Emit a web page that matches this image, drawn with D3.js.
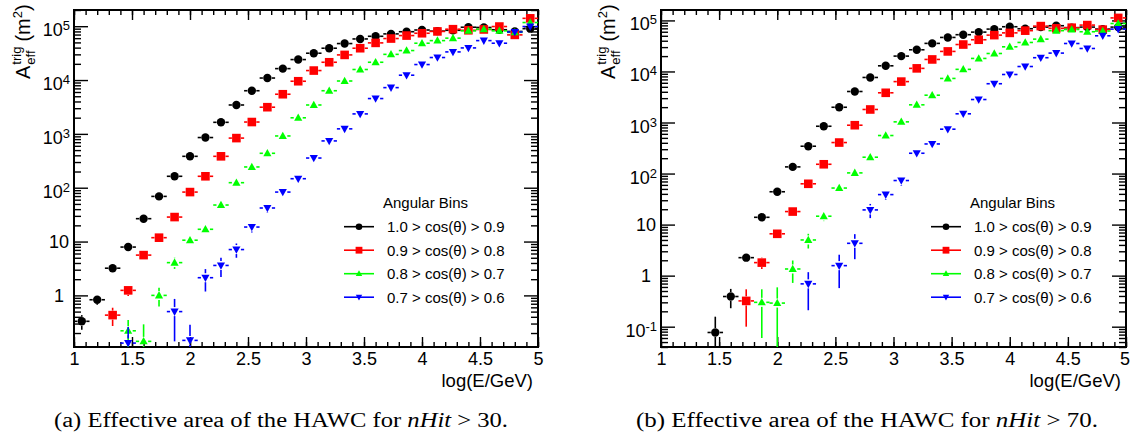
<!DOCTYPE html>
<html>
<head>
<meta charset="utf-8">
<script src="https://cdn.jsdelivr.net/npm/d3@7"></script>
<style>
body { margin: 0; background: #fff; }
svg { display: block; }
text { font-family: "Liberation Sans", Arial, sans-serif; fill: #000; }
</style>
</head>
<body>
<svg id="chart" width="1130" height="433"></svg>
<script>
// Bin centres in log(E/GeV), 30 bins between 1 and 5
const logE = [1.067, 1.2, 1.333, 1.467, 1.6, 1.733, 1.867, 2.0, 2.133, 2.267,
              2.4, 2.533, 2.667, 2.8, 2.933, 3.067, 3.2, 3.333, 3.467, 3.6,
              3.733, 3.867, 4.0, 4.133, 4.267, 4.4, 4.533, 4.667, 4.8, 4.933];
const binHalfWidth = 0.0667;

// nHit > 30 (left panel), effective area in m^2
const black30 = [0.33, 0.83, 3.2, 7.9, 26.6, 69, 163, 383, 855, 1640,
                 3440, 6330, 10900, 16300, 24000, 31500, 39000, 47600, 58000, 65000,
                 72000, 79000, 85000, 81000, 84000, 95700, 94700, 86000, 80000, 90000];
const red30 = [null, null, 0.43, 1.24, 5.6, 11.8, 28.5, 83, 163, 383,
               835, 1660, 3130, 5450, 9500, 15000, 21400, 29300, 39000, 49000,
               59000, 67000, 74000, 80000, 88000, 84000, 87000, 98600, 69000, 140000];
const green30 = [null, null, null, 0.22, 0.14, 1.0, 4.06, 10.6, 16.9, 47.7,
                 124, 243, 436, 915, 1990, 3440, 6330, 9600, 15700, 21400,
                 30000, 35300, 48300, 54000, 60000, 82000, 88000, 82000, 77000, 117000];
const blue30 = [null, null, null, 0.13, null, null, 0.50, 0.146, 2.13, 3.6,
                7.1, 18.6, 42, 83, 147, 356, 740, 1240, 2350, 4530,
                7230, 12300, 19400, 26200, 33300, 39500, 54000, 48300, 78000, 98600];

// vertical errors (m^2), 0 where hidden by the marker
const black30err = [0.1, 0.17, 0.4, 1, 2, 0, 0, 0, 0, 0, 0, 0, 0, 0, 0, 0, 0, 0, 0, 0, 0, 0, 0, 0, 0, 0, 0, 0, 0, 0];
const red30err = [0, 0, 0.16, 0.27, 0.6, 1.2, 2.5, 0, 0, 0, 0, 0, 0, 0, 0, 0, 0, 0, 0, 0, 0, 0, 0, 0, 0, 0, 0, 0, 0, 0];
const green30err = [0, 0, 0, 0.13, 0.15, 0.38, 0.95, 1.5, 2, 0, 0, 0, 0, 0, 0, 0, 0, 0, 0, 0, 0, 0, 0, 0, 0, 0, 0, 0, 0, 0];
const blue30err = [0, 0, 0, 0.13, 0, 0, 0.36, 0.14, 0.95, 1.4, 2.1, 3.8, 8, 10, 0, 0, 0, 0, 0, 0, 0, 0, 0, 0, 0, 0, 0, 0, 0, 0];

// nHit > 70 (right panel)
const black70 = [null, null, null, 0.077, 0.39, 2.25, 13.9, 44, 135, 343,
                 845, 1990, 4050, 7630, 12900, 20000, 26600, 35500, 46400, 52500,
                 59000, 67600, 75200, 68700, 74000, 78700, 72000, 74000, 67600, 74000];
const red70 = [null, null, null, null, null, 0.32, 1.8, 6.6, 18, 63,
               152, 405, 885, 1800, 3820, 6330, 11500, 17200, 24700, 33700,
               41800, 51500, 57000, 63000, 77400, 70000, 72000, 81000, 66000, 112000];
const green70 = [null, null, null, null, null, null, 0.30, 0.29, 1.35, 5.0,
                 14.6, 52, 103, 209, 556, 1030, 2220, 3430, 7300, 11000,
                 18000, 22500, 30400, 37000, 43000, 63000, 66500, 60000, 62000, 87000];
const blue70 = [null, null, null, null, null, null, null, null, null, 0.69,
                null, 1.57, 4.3, 19.4, 38.7, 73, 250, 380, 740, 1480,
                2820, 5750, 8720, 12500, 18600, 22900, 35300, 28200, 50000, 67600];

const black70err = [0, 0, 0, 0.08, 0.16, 0.4, 1.5, 0, 0, 0, 0, 0, 0, 0, 0, 0, 0, 0, 0, 0, 0, 0, 0, 0, 0, 0, 0, 0, 0, 0];
const red70err = [0, 0, 0, 0, 0, 0.22, 0.45, 0.8, 2, 0, 0, 0, 0, 0, 0, 0, 0, 0, 0, 0, 0, 0, 0, 0, 0, 0, 0, 0, 0, 0];
const green70err = [0, 0, 0, 0, 0, 0, 0.24, 0.30, 0.63, 1.6, 2.9, 6, 0, 0, 0, 0, 0, 0, 0, 0, 0, 0, 0, 0, 0, 0, 0, 0, 0, 0];
const blue70err = [0, 0, 0, 0, 0, 0, 0, 0, 0, 0.48, 0, 1.0, 2.2, 6, 8, 15, 20, 0, 0, 0, 0, 0, 0, 0, 0, 0, 0, 0, 0, 0];

// legend / axis text
const legendTitle = "Angular Bins";
const legendLabels = ["1.0 > cos(\u03b8) > 0.9", "0.9 > cos(\u03b8) > 0.8",
                      "0.8 > cos(\u03b8) > 0.7", "0.7 > cos(\u03b8) > 0.6"];
const seriesColors = ["#000000", "#ff0000", "#00ff00", "#0000ff"];
const seriesShapes = ["circle", "square", "triUp", "triDown"];
const xTicks = [1, 1.5, 2, 2.5, 3, 3.5, 4, 4.5, 5];
const yDecades30 = [1, 10, 100, 1000, 10000, 100000];
const yDecades70 = [0.1, 1, 10, 100, 1000, 10000, 100000];

const svg = d3.select('#chart');
svg.append('rect').attr('width', 1130).attr('height', 433).attr('fill', '#fff');

// Function to draw a ROOT-style marker
const drawMarker = (g, shape, cx, cy, s, color) => {
    if (shape === 'circle') {
        g.append('circle').attr('cx', cx).attr('cy', cy).attr('r', s).attr('fill', color);
    } else if (shape === 'square') {
        g.append('rect').attr('x', cx - s).attr('y', cy - s)
            .attr('width', 2 * s).attr('height', 2 * s).attr('fill', color);
    } else {
        const d = shape === 'triUp' ? 1 : -1;
        const pts = [[cx, cy - d * s], [cx - s * 0.95, cy + d * s * 0.7], [cx + s * 0.95, cy + d * s * 0.7]];
        g.append('path').attr('d', 'M' + pts.join('L') + 'Z').attr('fill', color);
    }
};

const markerSize = { circle: 4.2, square: 4.3, triUp: 4.3, triDown: 4.3 };

// Function to draw one panel
const drawPanel = (p) => {
    const x = d3.scaleLinear().domain([1, 5]).range([p.x0, p.x1]);
    const y = d3.scaleLog().domain(p.yDomain).range([p.y1, p.y0]);
    const g = svg.append('g');

    const clipId = 'clip' + p.id;
    svg.append('clipPath').attr('id', clipId).append('rect')
        .attr('x', p.x0).attr('y', p.y0).attr('width', p.x1 - p.x0).attr('height', p.y1 - p.y0);

    // axes (ticks on all four sides, pointing in)
    const xMinor = d3.range(1, 5.001, 0.1);
    const yMinor = y.ticks().filter((v) => Math.abs(Math.log10(v) - Math.round(Math.log10(v))) > 1e-6);

    const axes = g.append('g').attr('class', 'axes');
    axes.append('g').attr('transform', `translate(0,${p.y1})`)
        .call(d3.axisBottom(x).tickValues(xMinor).tickSize(-5).tickFormat(''));
    const xLab = axes.append('g').attr('transform', `translate(0,${p.y1})`)
        .call(d3.axisBottom(x).tickValues(xTicks).tickSize(-10).tickPadding(5).tickFormat((d) => String(d)));
    axes.append('g').attr('transform', `translate(0,${p.y0})`)
        .call(d3.axisTop(x).tickValues(xMinor).tickSize(-5).tickFormat(''));
    axes.append('g').attr('transform', `translate(0,${p.y0})`)
        .call(d3.axisTop(x).tickValues(xTicks).tickSize(-10).tickFormat(''));
    axes.append('g').attr('transform', `translate(${p.x0},0)`)
        .call(d3.axisLeft(y).tickValues(yMinor).tickSize(-7).tickFormat(''));
    axes.append('g').attr('transform', `translate(${p.x0},0)`)
        .call(d3.axisLeft(y).tickValues(p.decades).tickSize(-14).tickFormat(''));
    axes.append('g').attr('transform', `translate(${p.x1},0)`)
        .call(d3.axisRight(y).tickValues(yMinor).tickSize(-7).tickFormat(''));
    axes.append('g').attr('transform', `translate(${p.x1},0)`)
        .call(d3.axisRight(y).tickValues(p.decades).tickSize(-14).tickFormat(''));
    axes.selectAll('.domain').remove();
    axes.selectAll('line').attr('stroke', '#000').attr('stroke-width', 1.4);
    axes.selectAll('text').style('font-size', '18px').attr('fill', '#000')
        .style('font-family', '"Liberation Sans", Arial, sans-serif');
    // keep the last label inside the page
    xLab.selectAll('.tick text').filter((d) => d === 5).attr('dx', p.lastLabelDx);

    // y tick labels with exponents
    p.decades.forEach((d) => {
        const e = Math.round(Math.log10(d));
        const t = g.append('text').attr('text-anchor', 'end').style('font-size', '18px');
        if (e === 0) {
            t.attr('x', p.x0 - 10).attr('y', y(d) + 6.5).text('1');
        } else if (e === 1) {
            t.attr('x', p.x0 - 5).attr('y', y(d) + 6.5).text('10');
        } else {
            t.attr('x', p.x0 - 4).attr('y', y(d) + 10);
            t.append('tspan').text('10');
            t.append('tspan').attr('dy', -6).style('font-size', '13px').text(String(e));
        }
    });

    // frame
    g.append('rect').attr('x', p.x0).attr('y', p.y0)
        .attr('width', p.x1 - p.x0).attr('height', p.y1 - p.y0)
        .attr('fill', 'none').attr('stroke', '#000').attr('stroke-width', 2);

    // data
    const dataG = g.append('g').attr('clip-path', `url(#${clipId})`);
    p.series.forEach((s, k) => {
        const color = seriesColors[k];
        const shape = seriesShapes[k];
        const gap = 4.5;
        s.vals.forEach((v, i) => {
            if (v == null) return;
            const cx = x(logE[i]);
            const cy = y(v);
            const xl = x(logE[i] - binHalfWidth);
            const xr = x(logE[i] + binHalfWidth);
            const seg = (x1, y1, x2, y2) => dataG.append('line')
                .attr('x1', x1).attr('y1', y1).attr('x2', x2).attr('y2', y2)
                .attr('stroke', color).attr('stroke-width', 1.6);
            seg(xl, cy, cx - gap, cy);
            seg(cx + gap, cy, xr, cy);
            const e = s.errs[i] || 0;
            if (e > 0) {
                const yt = y(v + e);
                const yb = v - e > 0 ? y(v - e) : p.y1 + 10;
                if (yt < cy - gap) seg(cx, yt, cx, cy - gap);
                if (yb > cy + gap) seg(cx, cy + gap, cx, yb);
            }
            drawMarker(dataG, shape, cx, cy, markerSize[shape], color);
        });
    });

    // x title
    g.append('text').attr('x', p.x1 - 5).attr('y', 387).attr('text-anchor', 'end')
        .style('font-size', '18.5px').text('log(E/GeV)');

    // y title: A^{trig}_{eff} (m^{2}), rotated
    const yt = g.append('g').attr('transform', `translate(${p.titleX},79) rotate(-90)`);
    const tA = yt.append('text').attr('x', 0).attr('y', 0).style('font-size', '20px').text('A');
    const aW = tA.node().getComputedTextLength();
    const tSup = yt.append('text').attr('x', aW + 1).attr('y', -9).style('font-size', '13px').text('trig');
    const tSub = yt.append('text').attr('x', aW + 1).attr('y', 5).style('font-size', '13px').text('eff');
    const sW = Math.max(tSup.node().getComputedTextLength(), tSub.node().getComputedTextLength());
    const tM = yt.append('text').attr('x', aW + sW + 6).attr('y', 0).style('font-size', '20px');
    tM.append('tspan').text('(m');
    tM.append('tspan').attr('dy', -8).style('font-size', '13px').text('2');
    tM.append('tspan').attr('dy', 8).text(')');

    // legend
    const lg = g.append('g');
    lg.append('text').attr('x', p.legX + 39).attr('y', 208).style('font-size', '15px').text(legendTitle);
    legendLabels.forEach((lab, k) => {
        const ly = 226.7 + k * 23.5;
        lg.append('line').attr('x1', p.legX).attr('x2', p.legX + 30).attr('y1', ly).attr('y2', ly)
            .attr('stroke', seriesColors[k]).attr('stroke-width', 1.6);
        drawMarker(lg, seriesShapes[k], p.legX + 15, ly, seriesShapes[k] === 'circle' ? 3.3 : 3.4, seriesColors[k]);
        lg.append('text').attr('x', p.legX + 43).attr('y', ly + 5.5).style('font-size', '15px').text(lab);
    });

    // caption
    const cap = svg.append('text').attr('x', p.capX).attr('y', 427)
        .attr('textLength', p.capW).attr('lengthAdjust', 'spacingAndGlyphs')
        .style('font-family', '"Liberation Serif", "Times New Roman", serif')
        .style('font-size', '20px').attr('fill', '#1a1a1a');
    cap.append('tspan').text(p.capPre + ' Effective area of the HAWC for ');
    cap.append('tspan').style('font-style', 'italic').text('nHit');
    cap.append('tspan').text(' > ' + p.capN + '.');
};

drawPanel({
    id: 'a', x0: 74, x1: 538, y0: 10, y1: 347, yDomain: [0.11, 2e5], decades: yDecades30,
    titleX: 30, legX: 344, capX: 54, capW: 454, capPre: '(a)', capN: '30', lastLabelDx: 0,
    series: [
        { vals: black30, errs: black30err },
        { vals: red30, errs: red30err },
        { vals: green30, errs: green30err },
        { vals: blue30, errs: blue30err },
    ],
});

drawPanel({
    id: 'b', x0: 661, x1: 1126, y0: 10, y1: 347, yDomain: [0.04, 1.6e5], decades: yDecades70,
    titleX: 615, legX: 931, capX: 636, capW: 462, capPre: '(b)', capN: '70', lastLabelDx: -1.5,
    series: [
        { vals: black70, errs: black70err },
        { vals: red70, errs: red70err },
        { vals: green70, errs: green70err },
        { vals: blue70, errs: blue70err },
    ],
});
</script>
</body>
</html>
